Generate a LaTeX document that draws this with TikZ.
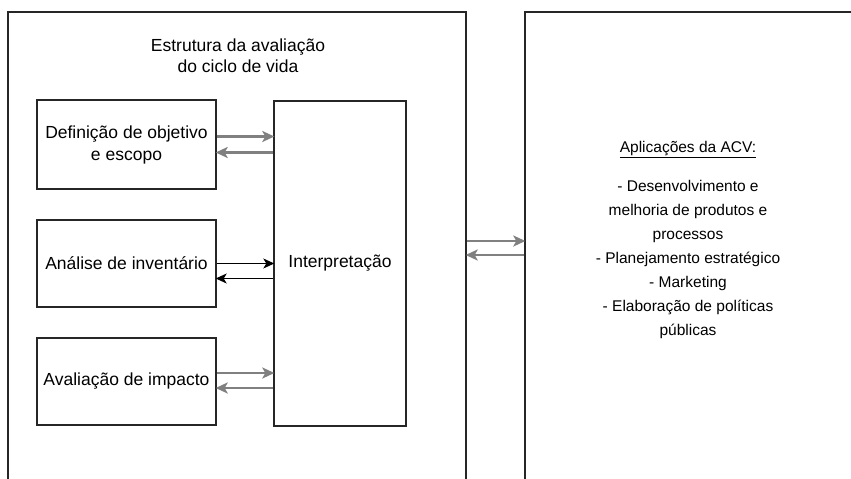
\documentclass[tikz,border=0pt]{standalone}
\usepackage{fontspec}
\setmainfont{Liberation Sans}
\usetikzlibrary{arrows.meta}

\tikzset{
    caixa/.style={draw=black!85, line width=1.4pt, align=center, inner sep=0pt},
    setacinza/.style={draw=black!50, line width=2.6pt, -{Stealth[length=12pt,width=11pt,inset=3pt]}, shorten >=-1pt},
    setapreta/.style={draw=black, line width=1.1pt, -{Stealth[length=11pt,width=10pt,inset=3pt]}, shorten >=-1pt}
}

\begin{document}
\begin{tikzpicture}[x=1pt, y=-1pt, font=\fontsize{17.5}{22}\selectfont]
    \useasboundingbox (0,0) rectangle (851,479);
    \fill[white] (0,0) rectangle (851,479);
    \clip (0,0) rectangle (851,479);

    % Caixas externas
    \node[caixa, minimum width=458pt, minimum height=488pt] (estrutura) at (237,256) {};
    \node[caixa, minimum width=355pt, minimum height=488pt] (aplic) at (702.5,256) {};

    % Título da estrutura
    \node[align=center, font=\fontsize{17.5}{21}\selectfont] (titulo) at (238,56) {Estrutura da avaliação\\do ciclo de vida};

    % Fases
    \node[caixa, minimum width=179pt, minimum height=89pt] (objetivo) at (126.5,144.5) {Definição de objetivo\\e escopo};
    \node[caixa, minimum width=179pt, minimum height=87pt] (inventario) at (126.5,263.5) {Análise de inventário};
    \node[caixa, minimum width=179pt, minimum height=87pt] (impacto) at (126.5,381.5) {Avaliação de impacto};
    \node[caixa, minimum width=132pt, minimum height=325pt] (interp) at (340,263.5) {Interpretação};

    % Setas entre as fases e a interpretação
    \draw[setacinza] ([yshift=8pt]objetivo.east) -- ([yshift=8pt]objetivo.east -| interp.west);
    \draw[setacinza] ([yshift=-8pt]objetivo.east -| interp.west) -- ([yshift=-8pt]objetivo.east);
    \draw[setapreta] ([yshift=0pt]inventario.east) -- ([yshift=0pt]inventario.east -| interp.west);
    \draw[setapreta] ([yshift=-15pt]inventario.east -| interp.west) -- ([yshift=-15pt]inventario.east);
    \draw[setacinza] ([yshift=8.5pt]impacto.east) -- ([yshift=8.5pt]impacto.east -| interp.west);
    \draw[setacinza] ([yshift=-6.5pt]impacto.east -| interp.west) -- ([yshift=-6.5pt]impacto.east);

    % Setas entre a estrutura e as aplicações
    \draw[setacinza] ([yshift=15pt]estrutura.east) -- ([yshift=15pt]estrutura.east -| aplic.west);
    \draw[setacinza] ([yshift=1pt]estrutura.east -| aplic.west) -- ([yshift=1pt]estrutura.east);

    % Aplicações
    \node[align=center, font=\fontsize{15.5}{24}\selectfont] (lista) at (688,240) {\underline{Aplicações da ACV:}\\[15pt]
        - Desenvolvimento e\\melhoria de produtos e\\processos\\- Planejamento estratégico\\- Marketing\\- Elaboração de políticas\\públicas};
\end{tikzpicture}
\end{document}
